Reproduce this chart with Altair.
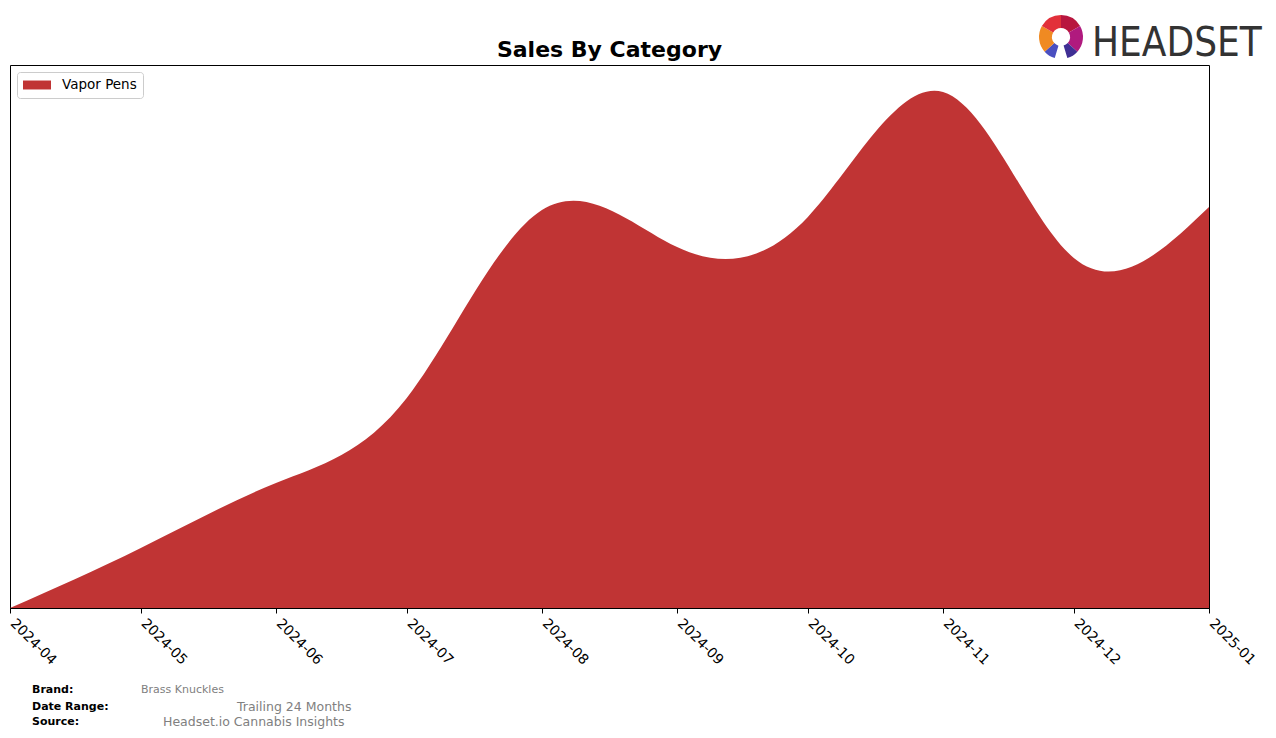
import altair as alt
import pandas as pd

# ---- data ----
months = ["2024-04-01", "2024-05-01", "2024-06-01", "2024-07-01", "2024-08-01",
          "2024-09-01", "2024-10-01", "2024-11-01", "2024-12-01", "2025-01-01"]
sales = [0, 60, 125, 210, 398, 361, 391, 516, 350, 401]
categories = ["Vapor Pens"] * len(months)
category_domain = ["Vapor Pens"]
category_colors = ["#c03434"]

title_text = ["Sales By Category"]
footer_labels = ["Brand:", "Date Range:", "Source:"]
footer_values = ["Brass Knuckles", "Trailing 24 Months", "Headset.io Cannabis Insights"]

logo_t0 = [0.0, 1.05, 2.30, 3.43, 3.98, 5.23]
logo_t1 = [1.05, 2.30, 2.85, 3.98, 5.23, 6.2832]
logo_colors = ["#b8163f", "#b01a7e", "#3f2f94", "#4a4fc0", "#f08a22", "#e2303a"]

df = pd.DataFrame({"month": months, "sales": sales, "category": categories})

W, H = 1199, 543
FONT = "DejaVu Sans"

area = alt.Chart(df).mark_area(interpolate="natural", opacity=1).encode(
    x=alt.X("month:T",
            scale=alt.Scale(type="utc", nice=False),
            axis=alt.Axis(labelExpr="utcFormat(datum.value, '%Y-%m')",
                          tickCount=alt.TimeIntervalStep(interval="month", step=1),
                          labelAngle=45, labelAlign="left", labelBaseline="top",
                          labelFontSize=14, labelFont=FONT, labelColor="black",
                          labelPadding=3, labelOffset=7, labelFlush=False,
                          labelOverlap=False, tickColor="black", tickSize=5,
                          tickWidth=1, domainColor="black", domainWidth=1,
                          grid=False, title=None)),
    y=alt.Y("sales:Q", scale=alt.Scale(domain=[0, 543], nice=False, zero=True), axis=None),
    color=alt.Color("category:N",
                    scale=alt.Scale(domain=category_domain, range=category_colors),
                    legend=alt.Legend(orient="none", legendX=7, legendY=7, title=None,
                                      symbolType="M-1,-0.64H3V0.64H-1Z", symbolSize=196,
                                      symbolStrokeWidth=0, symbolOpacity=1,
                                      labelFontSize=13.5, labelFont=FONT, labelColor="black",
                                      labelOffset=25, padding=6, strokeColor="#cccccc",
                                      fillColor="white", cornerRadius=3)),
)

def text_layer(txt, x, y, size, weight="normal", color="black", align="left", font=FONT):
    return alt.Chart(pd.DataFrame({"t": [txt]})).mark_text(
        fontSize=size, fontWeight=weight, font=font, color=color,
        align=align, baseline="alphabetic"
    ).encode(text="t:N", x=alt.value(x), y=alt.value(y))

title = text_layer(title_text[0], 599.5, -8, 22, weight="bold", align="center")

footer = [
    text_layer(footer_labels[0], 22, 628, 11, weight="bold"),
    text_layer(footer_values[0], 131, 628, 11, color="#808080"),
    text_layer(footer_labels[1], 22, 645, 11, weight="bold"),
    text_layer(footer_values[1], 227, 646, 12.5, color="#808080"),
    text_layer(footer_labels[2], 22, 660, 11, weight="bold"),
    text_layer(footer_values[2], 153, 661, 12.5, color="#808080"),
]

logo_df = pd.DataFrame({"t0": logo_t0, "t1": logo_t1, "c": logo_colors})
logo_icon = alt.Chart(logo_df).mark_arc(radius=22, radius2=9).encode(
    theta=alt.Theta("t0:Q", scale=None, stack=None),
    theta2=alt.Theta2("t1"),
    fill=alt.Fill("c:N", scale=None),
    x=alt.value(1051),
    y=alt.value(-28),
)
logo_text = text_layer("HEADSET", 1082, -9, 40, color="#333333",
                       font="DejaVu Sans Condensed, DejaVu Sans")

chart = alt.layer(area, title, *footer, logo_icon, logo_text).properties(
    width=W, height=H,
    padding={"left": 10, "top": 65, "right": 67, "bottom": 130},
    autosize=alt.AutoSizeParams(type="none"),
    background="white",
).configure_view(stroke="black", strokeWidth=1)

chart.save("out.html", embed_options={"renderer": "svg", "actions": False})
